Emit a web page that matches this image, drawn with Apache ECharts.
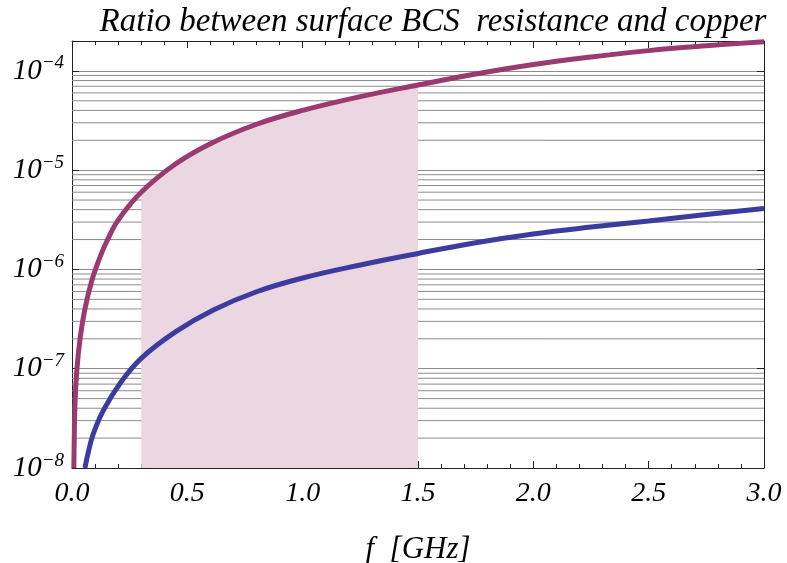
<!DOCTYPE html>
<html>
<head>
<meta charset="utf-8">
<script src="https://cdn.jsdelivr.net/npm/echarts@6/dist/echarts.min.js"></script>
<style>
html,body{margin:0;padding:0;background:#fff;}
#chart{width:787px;height:563px;}
</style>
</head>
<body>
<div id="chart"></div>
<script>
// ---- data ----
const titleText = 'Ratio between surface BCS  resistance and copper';
const xName = 'f  [GHz]';

const upperF = [0.008, 0.009, 0.013, 0.021, 0.036, 0.056, 0.085, 0.114, 0.15, 0.2, 0.3, 0.45, 0.6, 0.8, 1.0, 1.25, 1.5, 1.75, 2.0, 2.25, 2.5, 2.75, 3.0];
const upperV = [1.0e-8, 1.5e-8, 4.5e-8, 9.7e-8, 2.1e-7, 4.0e-7, 7.6e-7, 1.2e-6, 1.9e-6, 3.14e-6, 6.0e-6, 1.16e-5, 1.85e-5, 2.9e-5, 4.0e-5, 5.5e-5, 7.2e-5, 9.3e-5, 1.16e-4, 1.38e-4, 1.6e-4, 1.79e-4, 1.97e-4];

const lowerF = [0.056, 0.07, 0.092, 0.136, 0.208, 0.3, 0.45, 0.613, 0.8, 1.0, 1.25, 1.5, 1.75, 2.0, 2.25, 2.5, 2.75, 3.0];
const lowerV = [1.0e-8, 1.42e-8, 2.2e-8, 3.8e-8, 7.1e-8, 1.27e-7, 2.36e-7, 3.9e-7, 5.96e-7, 8.2e-7, 1.11e-6, 1.45e-6, 1.86e-6, 2.28e-6, 2.67e-6, 3.07e-6, 3.58e-6, 4.12e-6];

const shadeRange = [0.3, 1.5];

const xMin = 0, xMax = 3, xInterval = 0.5;
const yMin = 1e-8, yMax = 2e-4;
const decades = [-8, -7, -6, -5, -4];
const minorMultipliers = [2, 3, 4, 5, 6, 7, 8, 9];

// ---- build ----
const upperData = upperF.map((f, i) => [f, upperV[i]]);
const lowerData = lowerF.map((f, i) => [f, lowerV[i]]);
const shadeData = upperData.filter(p => p[0] >= shadeRange[0] && p[0] <= shadeRange[1]);

const gridLineValues = [];
decades.forEach(d => {
  minorMultipliers.forEach(m => {
    const v = m * Math.pow(10, d);
    if (v < yMax * 0.999) gridLineValues.push(v);
  });
});

const serif = '"Liberation Serif", "DejaVu Serif", serif';
const gridColor = '#8c8c8c';
const chart = echarts.init(document.getElementById('chart'), null, {renderer: 'canvas'});

function yLabel(v) {
  const e = Math.log10(v);
  const r = Math.round(e);
  if (Math.abs(e - r) > 1e-6) return '';
  return '{b|10}{s|' + (r < 0 ? '\u2212' + (-r) : r) + '}';
}

const commonX = {
  type: 'value', min: xMin, max: xMax, interval: xInterval,
  axisLine: {show: true, onZero: false, lineStyle: {color: '#222', width: 1}},
  axisTick: {show: true, inside: true, length: 7, lineStyle: {color: '#222'}},
  minorTick: {show: true, splitNumber: 5, length: 4, lineStyle: {color: '#222'}},
  splitLine: {show: false}
};
const commonY = {
  type: 'log', logBase: 10, min: yMin, max: yMax,
  axisLine: {show: true, onZero: false, lineStyle: {color: '#222', width: 1}},
  axisTick: {show: true, inside: true, length: 7, lineStyle: {color: '#222'}}
};

const gridSeries = gridLineValues.map(v => ({
  type: 'line', z: 1, silent: true, showSymbol: false, symbol: 'none',
  data: [[xMin, v], [xMax, v]],
  lineStyle: {color: gridColor, width: 1},
  emphasis: {disabled: true}, tooltip: {show: false}
}));

const curveCommon = {
  type: 'line', smooth: 0.4,
  showSymbol: false, symbol: 'none'
};

chart.setOption({
  animation: false,
  backgroundColor: '#fff',
  title: {
    text: titleText, left: 428, textAlign: 'center', top: 1,
    textStyle: {fontFamily: serif, fontStyle: 'italic', fontWeight: 'normal', fontSize: 33, color: '#000'}
  },
  grid: {left: 72, right: 23, top: 41, bottom: 95, containLabel: false, outerBoundsMode: 'none'},
  xAxis: [
    Object.assign({}, commonX, {
      position: 'bottom',
      name: xName, nameLocation: 'middle', nameGap: 66,
      nameTextStyle: {fontFamily: serif, fontStyle: 'italic', fontSize: 31, color: '#000'},
      axisLabel: {
        margin: 12, formatter: v => v.toFixed(1),
        fontFamily: serif, fontStyle: 'italic', fontSize: 28, color: '#000'
      }
    }),
    Object.assign({}, commonX, {position: 'top', axisLabel: {show: false}})
  ],
  yAxis: [
    Object.assign({}, commonY, {
      position: 'left',
      splitLine: {show: true, lineStyle: {color: gridColor, width: 1}},
      axisLabel: {
        margin: 8, showMaxLabel: false, formatter: yLabel,
        rich: {
          b: {fontFamily: serif, fontStyle: 'italic', fontSize: 29, color: '#000', lineHeight: 32},
          s: {fontFamily: serif, fontStyle: 'italic', fontSize: 19, color: '#000', lineHeight: 32, padding: [0, 0, 15, 0]}
        }
      }
    }),
    Object.assign({}, commonY, {position: 'right', axisLabel: {show: false}, splitLine: {show: false}})
  ],
  series: gridSeries.concat([
    Object.assign({}, curveCommon, {
      name: 'shade', data: shadeData, z: 2, silent: true,
      lineStyle: {width: 0, color: '#ead7e2'},
      areaStyle: {color: '#ead7e2', opacity: 1, origin: 'start'}
    }),
    Object.assign({}, curveCommon, {
      name: 'upper', data: upperData, z: 3,
      lineStyle: {width: 5, color: '#9b3a6f'}
    }),
    Object.assign({}, curveCommon, {
      name: 'lower', data: lowerData, z: 3,
      lineStyle: {width: 5, color: '#3c3c9e'}
    })
  ])
});
</script>
</body>
</html>
